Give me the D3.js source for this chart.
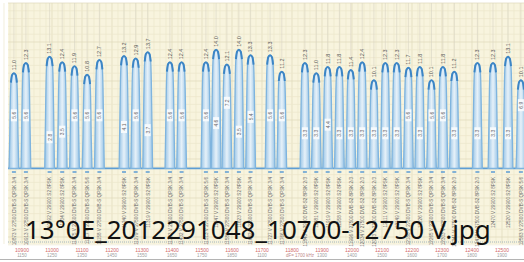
<!DOCTYPE html>
<html>
<head>
<meta charset="utf-8">
<script src="https://cdn.jsdelivr.net/npm/d3@7"></script>
<style>
body{margin:0;background:#fff;}
svg{display:block;font-family:"Liberation Sans",sans-serif;}
</style>
</head>
<body>
<div class="canvas"></div>
<script>
// transponders (MHz, dB above reference)
const freqs = [10873,10913,10992,11034,11075,11117,11158,11240,11279,11319,11393,11432,11513,11547,11583,11623,11662,
  11727,11766,11843,11881,11919,11958,11996,12034,12073,12111,12149,12188,12226,12265,12303,12341,12418,12470,12520,12563];
const levels = [11.0,12.3,13.1,12.4,11.9,10.8,12.7,13.2,12.9,13.7,12.4,12.4,12.4,14.0,12.1,14.0,13.3,
  13.3,11.2,12.3,11.0,11.8,11.8,11.4,12.4,10.1,12.3,12.3,11.7,11.8,10.1,11.8,11.2,12.3,12.3,13.1,10.1];
// required C/N marks drawn inside each carrier
const cnValues = [5.6,5.6,2.8,3.5,5.6,5.6,5.6,4.1,5.6,3.7,5.6,5.6,5.6,4.6,7.2,3.5,5.4,
  5.6,5.6,3.3,3.3,4.4,3.3,3.3,3.3,3.3,3.3,3.3,5.6,3.3,5.6,5.6,3.3,3.3,3.3,3.3,6.9];
const symbolRates = [27500,27500,29900,29900,27500,27500,27500,29900,27500,29900,27500,27500,27500,29900,27500,29900,27500,
  27500,27500,29900,29900,29900,29900,27500,27500,27500,29900,29900,27500,29900,27500,27500,27500,27500,29900,29900,27500];
const systems = ['DVB-S QPSK 3/4','DVB-S QPSK 3/4','S2 8PSK','S2 8PSK','DVB-S QPSK 3/4','DVB-S QPSK 5/6','DVB-S QPSK 3/4','S2 8PSK','DVB-S QPSK 3/4','S2 8PSK','DVB-S QPSK 3/4','DVB-S QPSK 3/4','DVB-S QPSK 5/6','S2 8PSK','DVB-S QPSK 3/4','S2 8PSK','DVB-S QPSK 3/4',
  'DVB-S QPSK 3/4','DVB-S QPSK 3/4','DVB-S2 8PSK 2/3','S2 8PSK','S2 8PSK','S2 8PSK','DVB-S2 8PSK 2/3','DVB-S2 8PSK 2/3','DVB-S2 8PSK 2/3','S2 8PSK','S2 8PSK','DVB-S QPSK 3/4','S2 8PSK','DVB-S QPSK 3/4','DVB-S QPSK 3/4','DVB-S2 8PSK 2/3','DVB-S2 8PSK 2/3','S2 8PSK','S2 8PSK','DVB-S QPSK 5/6'];
const noiseFloor = -1.2;

// axis labels
const tickFreqs = [10900,11000,11100,11200,11300,11400,11500,11600,11700,11800,11900,12000,12100,12200,12300,12400,12500];
const ifLabels = ['1150','1250','1350','1450','1550','1650','1750','1850','1100','','1300','1400','1500','1600','1700','1800','1900'];
const caption = '13°0E_2012291048_10700-12750 V.jpg';

const W = 524, H = 262;
const svg = d3.select('.canvas').append('svg').attr('width', W).attr('height', H);

const x = d3.scaleLinear().domain([10900, 12500]).range([22, 502]);
const y = d3.scaleLinear().domain([0, 10]).range([159, 81]);

// background + grid
svg.append('rect').attr('x', 8).attr('y', 3).attr('width', W - 8).attr('height', 241).attr('fill', '#f8f4de');
const grid = svg.append('g');
const vLines = d3.range(10820, 12600, 20);
grid.selectAll('line.v').data(vLines).enter().append('line')
  .attr('x1', d => x(d)).attr('x2', d => x(d))
  .attr('y1', 3).attr('y2', 244)
  .attr('stroke', d => d % 100 === 0 ? '#e0d9ba' : '#ede7cc').attr('stroke-width', 0.7);
const hLines = d3.range(-11, 21, 1);
grid.selectAll('line.h').data(hLines).enter().append('line')
  .attr('x1', 8).attr('x2', W)
  .attr('y1', d => y(d)).attr('y2', d => y(d))
  .attr('stroke', d => d % 5 === 0 ? '#e0d9ba' : '#ede7cc').attr('stroke-width', 0.7);

// gradient for the carriers
const defs = svg.append('defs');
const grad = defs.append('linearGradient').attr('id', 'tp');
grad.append('stop').attr('offset', '0%').attr('stop-color', '#98c4e6');
grad.append('stop').attr('offset', '50%').attr('stop-color', '#e6f1f9');
grad.append('stop').attr('offset', '100%').attr('stop-color', '#98c4e6');

const data = freqs.map((f, i) => ({f, level: levels[i], cn: cnValues[i], sr: symbolRates[i], sys: systems[i]}));

// faint max-hold strokes above peaks
svg.append('g').selectAll('line').data(data).enter().append('line')
  .attr('x1', d => x(d.f)).attr('x2', d => x(d.f))
  .attr('y1', 3).attr('y2', d => y(d.level) - 14)
  .attr('stroke', '#d6d3c3').attr('stroke-width', 0.6);

// carrier shape: offset in half-widths, drop in dB
const shape = [[-1.3,-99],[-1.1,-8],[-0.96,-3.6],[-0.8,-1.2],[-0.5,-0.25],[0,0],[0.5,-0.25],[0.8,-1.2],[0.96,-3.6],[1.1,-8],[1.3,-99]];
const hw = 12.5;
const pts = d => shape.map(([o, dr]) => [d.f + o * hw, Math.max(noiseFloor, d.level + dr)]);

const area = d3.area().curve(d3.curveMonotoneX)
  .x(p => x(p[0])).y0(y(noiseFloor)).y1(p => y(p[1]));
const line = d3.line().curve(d3.curveMonotoneX)
  .x(p => x(p[0])).y(p => y(p[1]));

// noise floor
svg.append('line').attr('x1', 8).attr('x2', W)
  .attr('y1', y(noiseFloor)).attr('y2', y(noiseFloor))
  .attr('stroke', '#5d9dd4').attr('stroke-width', 1.6);

const peaks = svg.append('g');
peaks.selectAll('path.a').data(data).enter().append('path')
  .attr('d', d => area(pts(d)))
  .attr('fill', 'url(#tp)').attr('stroke', '#7fb4de').attr('stroke-width', 1.3);
peaks.selectAll('path.c').data(data).enter().append('path')
  .attr('d', d => line(pts(d).slice(3, 8)))
  .attr('fill', 'none').attr('stroke', '#3c85c5').attr('stroke-width', 2);

// level labels above peaks
svg.append('g').selectAll('text').data(data).enter().append('text')
  .attr('transform', d => `translate(${x(d.f) + 1.8},${y(d.level) - 3}) rotate(-90)`)
  .attr('font-size', 5.5).attr('fill', '#555')
  .text(d => d.level.toFixed(1));

// C/N marks inside peaks
const cn = svg.append('g').selectAll('g').data(data).enter().append('g')
  .attr('transform', d => `translate(${x(d.f)},${y(d.cn)}) rotate(-90)`);
cn.append('rect').attr('x', -6).attr('y', -3).attr('width', 12).attr('height', 6).attr('fill', '#f6fafd');
cn.append('text').attr('text-anchor', 'middle').attr('y', 2)
  .attr('font-size', 5).attr('fill', '#666')
  .text(d => d.cn.toFixed(1));

// small markers below the floor
svg.append('g').selectAll('line').data(data).enter().append('line')
  .attr('x1', d => x(d.f) - 2).attr('x2', d => x(d.f) + 2)
  .attr('y1', 172).attr('y2', 172)
  .attr('stroke', '#5d9dd4').attr('stroke-width', 1.5);

// service columns
svg.append('g').selectAll('text').data(data).enter().append('text')
  .attr('transform', d => `translate(${x(d.f) + 1.8},177) rotate(-90)`)
  .attr('text-anchor', 'end')
  .attr('font-size', 4.6).attr('fill', '#6b6b6b')
  .text(d => `${d.f} V ${d.sr} ${d.sys}`);

// frequency axis
svg.append('line').attr('x1', 8).attr('x2', W).attr('y1', 242).attr('y2', 242)
  .attr('stroke', '#8fa8b8').attr('stroke-width', 0.8).attr('stroke-dasharray', '1,1');
svg.append('g').selectAll('text').data(tickFreqs).enter().append('text')
  .attr('x', d => x(d)).attr('y', 251.5).attr('text-anchor', 'middle')
  .attr('font-size', 5).attr('fill', '#d36a6a')
  .text(d => d);
svg.append('g').selectAll('text').data(ifLabels).enter().append('text')
  .attr('x', (d, i) => x(tickFreqs[i])).attr('y', 257).attr('text-anchor', 'middle')
  .attr('font-size', 4.5).attr('fill', '#a0a0a0')
  .text(d => d);
svg.append('text').attr('x', 300).attr('y', 257).attr('text-anchor', 'middle')
  .attr('font-size', 4.5).attr('fill', '#c08a8a').text('dF= 1700 kHz');
svg.append('line').attr('x1', 0).attr('x2', W).attr('y1', 259.5).attr('y2', 259.5)
  .attr('stroke', '#b4b4b4').attr('stroke-width', 1);

// file name caption
svg.append('text').attr('x', 25).attr('y', 239)
  .style('font-family', '"Noto Sans", sans-serif').attr('font-size', 26).attr('fill', '#111')
  .text(caption);
</script>
</body>
</html>
